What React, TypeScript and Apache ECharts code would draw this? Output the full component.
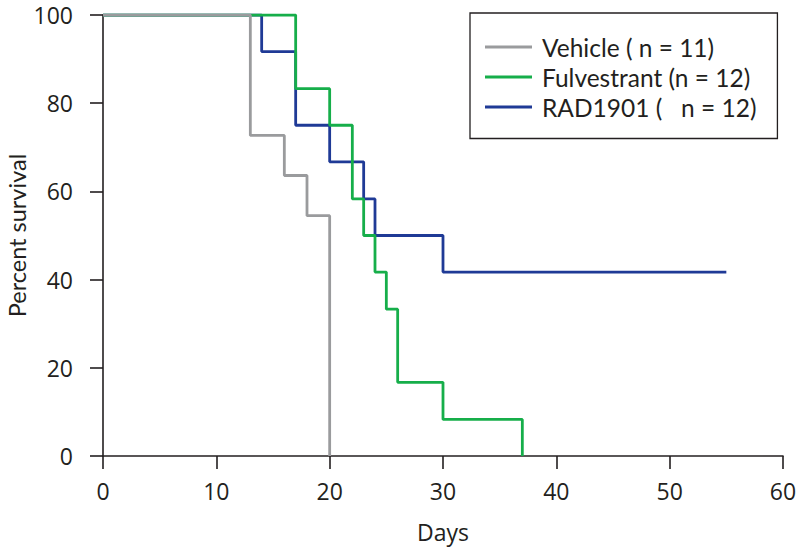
import React, { useEffect, useRef } from "react";
import * as echarts from "echarts";

const seriesNames = ["Vehicle ( n = 11)", "Fulvestrant (n = 12)", "RAD1901 (   n = 12)"];
const seriesColors = ["#9a9b9d", "#16ae4a", "#1f3a96"];

const vehicleDays = [0, 13, 16, 18, 20];
const vehicleSurvival = [100, 72.7, 63.6, 54.5, 0];

const fulvestrantDays = [0, 17, 20, 22, 23, 24, 25, 26, 30, 37];
const fulvestrantSurvival = [100, 83.3, 75, 58.3, 50, 41.7, 33.3, 16.7, 8.3, 0];

const radDays = [0, 14, 17, 20, 23, 24, 30, 55];
const radSurvival = [100, 91.7, 75, 66.7, 58.3, 50, 41.7, 41.7];

const xTicks = [0, 10, 20, 30, 40, 50, 60];
const yTicks = [0, 20, 40, 60, 80, 100];

const zip = (xs: number[], ys: number[]) => xs.map((x, i) => [x, ys[i]]);

const FONT = "Open Sans";
const ALT_FONT = "Lato";
const INK = "#231f20";

export default function App() {
  const ref = useRef<HTMLDivElement>(null);
  useEffect(() => {
    if (!ref.current) return;
    const chart = echarts.init(ref.current, undefined, { renderer: "svg" });
    const mk = (i: number, data: number[][], z: number) => ({
      name: seriesNames[i],
      type: "line",
      step: "end",
      data,
      symbol: "none",
      z,
      lineStyle: { color: seriesColors[i], width: 2.8 },
      itemStyle: { color: seriesColors[i] },
    });
    chart.setOption({
      animation: false,
      backgroundColor: "#ffffff",
      textStyle: { fontFamily: FONT },
      grid: { left: 103, right: 17, top: 15, bottom: 92, outerBoundsMode: "none", containLabel: false },
      legend: {
        orient: "vertical",
        left: 470,
        top: 13,
        padding: [21.5, 21, 19, 15],
        borderColor: INK,
        borderWidth: 1.3,
        icon: "rect",
        itemWidth: 47,
        itemHeight: 3,
        itemGap: 5,
        textStyle: { fontFamily: ALT_FONT, fontSize: 24.5, lineHeight: 24.5, color: INK, padding: [0, 0, 0, 5] },
        data: seriesNames,
      },
      xAxis: {
        type: "value",
        min: xTicks[0],
        max: xTicks[xTicks.length - 1],
        interval: 10,
        name: "Days",
        nameLocation: "middle",
        nameGap: 64,
        nameMoveOverlap: false,
        nameTextStyle: { fontFamily: FONT, fontSize: 23, color: INK },
        axisLine: { onZero: false, lineStyle: { color: INK, width: 1.6 } },
        axisTick: { show: true, length: 13, lineStyle: { color: INK, width: 1.6 } },
        axisLabel: { fontFamily: FONT, fontSize: 23, color: INK, margin: 23 },
        splitLine: { show: false },
      },
      yAxis: {
        type: "value",
        min: yTicks[0],
        max: yTicks[yTicks.length - 1],
        interval: 20,
        name: "Percent survival",
        nameLocation: "middle",
        nameGap: 74,
        nameMoveOverlap: false,
        nameTextStyle: { fontFamily: ALT_FONT, fontSize: 23.5, color: INK },
        axisLine: { show: true, onZero: false, lineStyle: { color: INK, width: 1.6 } },
        axisTick: { show: true, length: 13, lineStyle: { color: INK, width: 1.6 } },
        axisLabel: { fontFamily: FONT, fontSize: 23, color: INK, margin: 30 },
        splitLine: { show: false },
      },
      series: [
        mk(2, zip(radDays, radSurvival), 2),
        mk(1, zip(fulvestrantDays, fulvestrantSurvival), 3),
        mk(0, zip(vehicleDays, vehicleSurvival), 4),
      ],
    });
    return () => chart.dispose();
  }, []);
  return <div ref={ref} style={{ width: 800, height: 548, position: "absolute", left: 0, top: 0 }} />;
}
